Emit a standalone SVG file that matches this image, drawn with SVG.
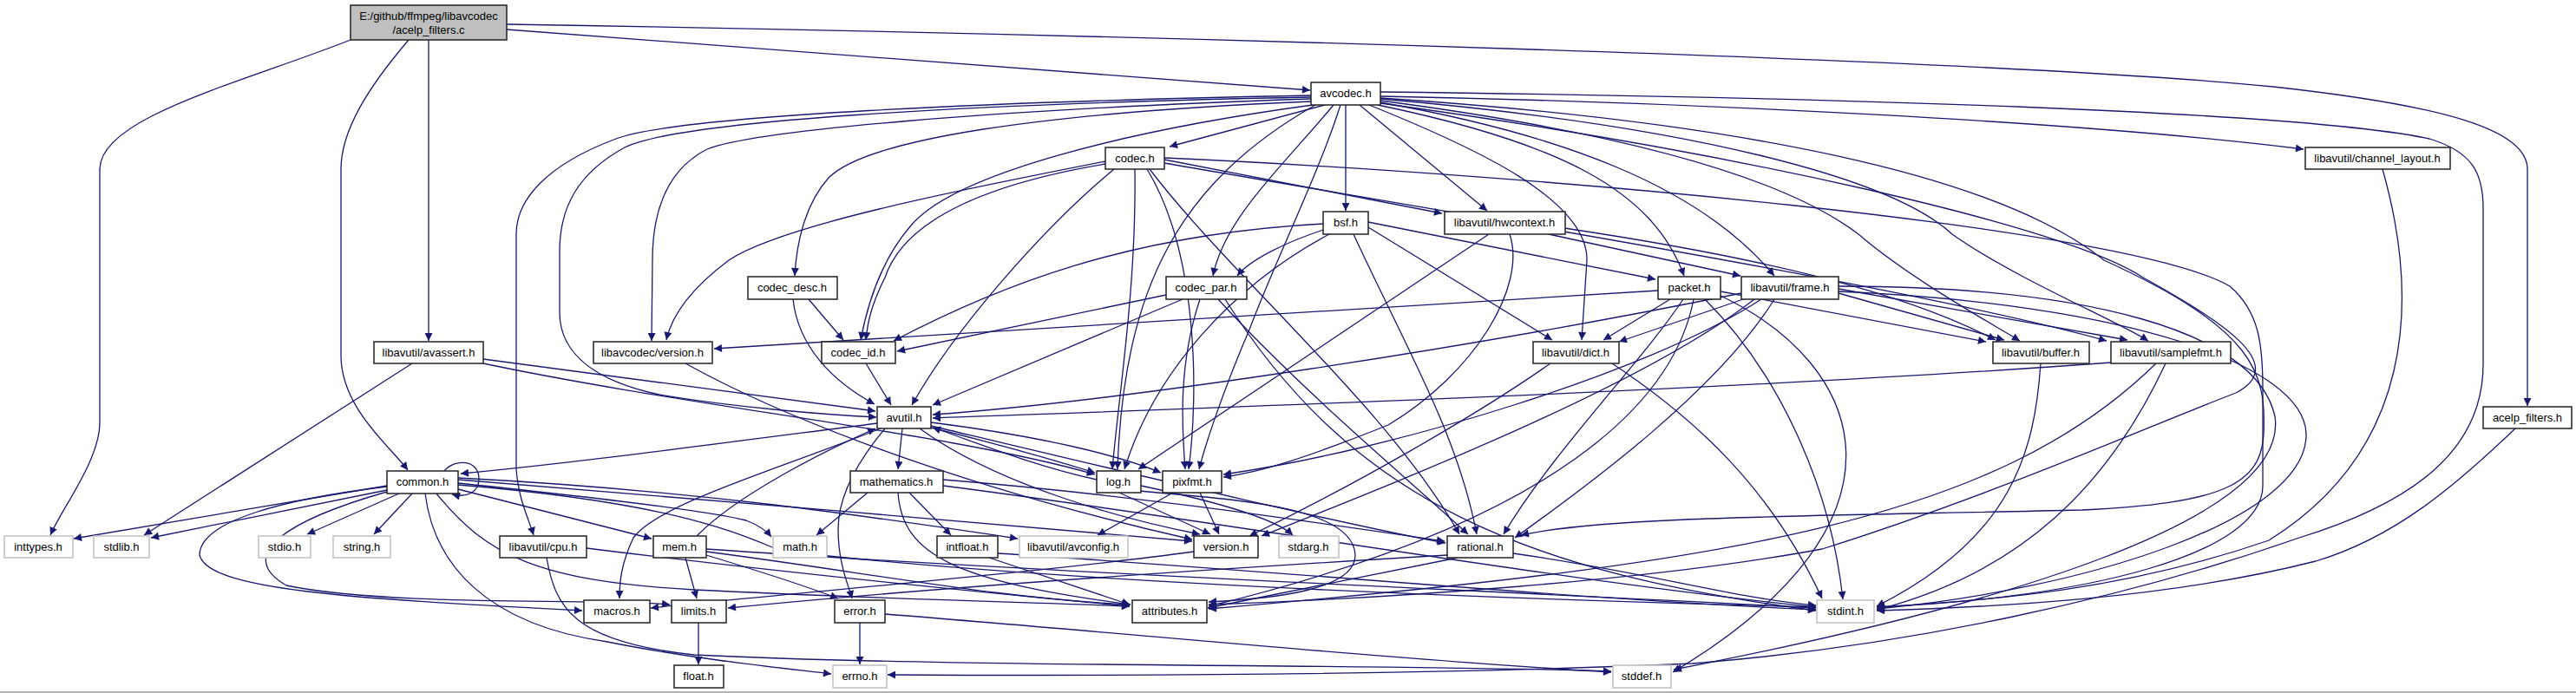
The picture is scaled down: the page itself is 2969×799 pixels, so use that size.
<svg xmlns="http://www.w3.org/2000/svg" width="2969" height="799" viewBox="0 0 2969 799">
<style>
.n rect{fill:#fff;stroke:#222;stroke-width:1.5}
.g rect{fill:#fff;stroke:#c0c0c0;stroke-width:1.5}
.m rect{fill:#bfbfbf;stroke:#222;stroke-width:1.5}
text{font-family:"Liberation Sans",Arial,sans-serif;font-size:13px;fill:#000;text-anchor:middle}
.e path{fill:none;stroke:#191970;stroke-width:1.3;marker-end:url(#a)}
</style>
<defs>
<marker id="a" viewBox="0 0 10 10" refX="10" refY="5" markerWidth="11" markerHeight="9" markerUnits="userSpaceOnUse" orient="auto">
<path d="M0,0 L10,5 L0,10 z" fill="#191970" stroke="none"/>
</marker>
</defs>
<rect x="0" y="0" width="2969" height="799" fill="#fff"/>
<rect x="0" y="797" width="2969" height="2" fill="#b4b4b4"/>
<g id="edges" class="e">
<path d="M404,46 C280,95 115,135 115,195 L115,487 C115,530 72,585 58,617"/>
<path d="M471,46 C425,100 393,150 393,195 L393,410 C393,470 450,515 470,542"/>
<path d="M494,46 L494,393"/>
<path d="M584,34 L1510,104"/>
<path d="M584,28 C1300,40 2300,68 2620,100 C2820,122 2913,150 2913,195 L2913,468"/>
<path d="M1527,121 L1348,169"/>
<path d="M1551,121 L1551,243"/>
<path d="M1567,121 L1714,243"/>
<path d="M1591,111 C1950,118 2400,140 2655,172"/>
<path d="M1591,106 C2100,112 2650,128 2800,160 C2850,175 2862,200 2862,240 L2862,420 C2862,520 2780,580 2650,620 C2450,690 2200,745 1950,765 C1600,780 1200,779 1023,778"/>
<path d="M1511,112 C1100,120 780,140 720,170 C665,200 645,240 645,290 L645,360 C645,410 690,440 760,455 C850,470 950,478 1010,481"/>
<path d="M1511,114 C1150,126 870,150 815,172 C770,195 752,240 752,300 L751,393"/>
<path d="M1511,117 C1200,130 1000,160 955,205 C928,235 918,280 916,318"/>
<path d="M1513,121 C1300,150 1100,200 1050,260 C1015,300 1000,350 992,392"/>
<path d="M1537,121 C1480,190 1412,250 1398,318"/>
<path d="M1588,121 C1800,165 1905,220 1941,318"/>
<path d="M1591,118 C1800,155 1960,215 2045,318"/>
<path d="M1578,121 C1700,170 1830,230 1829,300 L1823,392"/>
<path d="M1591,116 C1850,150 2050,200 2142,270 C2200,320 2290,370 2328,393"/>
<path d="M1591,114 C1950,145 2180,205 2250,270 C2320,320 2440,370 2476,393"/>
<path d="M1591,113 C2000,140 2300,200 2425,300 C2600,380 2612,430 2609,500 C2606,560 2560,580 2400,588 C2100,595 1850,595 1753,617"/>
<path d="M1591,119 C2000,175 2380,260 2470,320 C2560,370 2640,420 2577,453 C2480,490 2300,570 2100,633 C1900,670 1600,690 1393,697"/>
<path d="M1516,121 C1360,210 1295,330 1288,541"/>
<path d="M1511,110 C1150,117 780,133 710,160 C630,190 595,230 595,270 L595,540 C597,575 610,600 615,617"/>
<path d="M1545,121 C1520,200 1470,300 1440,380 C1410,450 1390,510 1382,541"/>
<path d="M1342,184 L1662,246"/>
<path d="M1342,188 C1700,250 2200,330 2428,393"/>
<path d="M1342,182 C1750,200 2450,260 2570,330 C2605,360 2608,400 2608,450 L2608,560 C2608,640 2400,690 2163,700"/>
<path d="M1325,195 C1420,320 1600,470 1682,616"/>
<path d="M1284,195 C1200,265 1100,380 1051,467"/>
<path d="M1308,195 C1310,330 1290,450 1282,541"/>
<path d="M1322,195 C1380,290 1382,450 1370,541"/>
<path d="M1274,189 C1120,215 1040,260 1020,320 C1005,350 1000,370 998,392"/>
<path d="M1274,186 C1100,220 900,260 840,300 C800,330 775,360 768,392"/>
<path d="M914,345 C920,400 960,440 1008,466"/>
<path d="M932,345 L972,392"/>
<path d="M1344,340 L1034,405"/>
<path d="M1363,345 L1075,467"/>
<path d="M1383,345 C1358,420 1362,490 1366,541"/>
<path d="M1404,345 C1500,450 1620,550 1692,616"/>
<path d="M1412,345 C1560,580 1760,660 2093,704"/>
<path d="M1577,256 L1908,322"/>
<path d="M1577,262 L1789,392"/>
<path d="M1525,265 C1480,280 1440,300 1426,318"/>
<path d="M1525,258 C1300,270 1150,330 1030,393"/>
<path d="M1532,270 C1420,330 1330,430 1296,541"/>
<path d="M1560,270 C1620,400 1680,500 1702,616"/>
<path d="M1911,335 L823,402"/>
<path d="M1925,345 L1848,392"/>
<path d="M1983,336 L2289,394"/>
<path d="M1940,345 C1890,420 1790,520 1733,616"/>
<path d="M1952,345 C1930,460 1800,600 1393,699"/>
<path d="M1965,345 C2050,430 2110,560 2124,691"/>
<path d="M1983,341 C2150,420 2220,600 1928,775"/>
<path d="M2119,338 L2310,392"/>
<path d="M2119,333 L2452,392"/>
<path d="M2012,344 L1866,394"/>
<path d="M2007,338 C1700,400 1300,462 1075,478"/>
<path d="M2030,345 C1900,430 1600,520 1410,547"/>
<path d="M2045,345 C1980,450 1830,560 1746,620"/>
<path d="M2022,345 C1900,440 1650,540 1454,618"/>
<path d="M2119,330 C2400,330 2600,380 2622,480 C2640,600 2300,700 1929,772"/>
<path d="M2119,336 C2450,350 2655,420 2658,500 C2660,600 2400,680 2163,702"/>
<path d="M1787,419 C1700,480 1560,560 1440,618"/>
<path d="M1858,419 C1950,480 2040,560 2100,690"/>
<path d="M2352,419 C2345,520 2320,620 2163,699"/>
<path d="M2496,419 C2430,560 2330,660 2163,703"/>
<path d="M2433,418 C2000,450 1400,470 1075,482"/>
<path d="M2485,419 C2300,600 2000,650 1393,702"/>
<path d="M2746,195 C2790,350 2780,520 2615,623 C2450,680 2300,692 2163,700"/>
<path d="M2899,494 C2830,560 2760,620 2669,647 C2500,690 2300,700 2163,704"/>
<path d="M1785,270 L2006,318"/>
<path d="M1803,263 C2050,300 2200,340 2300,392"/>
<path d="M1716,270 L1312,541"/>
<path d="M1740,270 C1760,330 1700,430 1600,490 C1500,530 1450,545 1410,550"/>
<path d="M475,419 L166,617"/>
<path d="M557,414 L1009,474"/>
<path d="M557,419 C800,470 1100,500 1262,547"/>
<path d="M790,419 C900,480 1100,560 1374,622"/>
<path d="M998,419 L1027,467"/>
<path d="M1011,488 C800,515 650,535 531,546"/>
<path d="M1020,494 C990,530 966,570 966,610 C966,650 978,675 982,690"/>
<path d="M1040,494 L1035,541"/>
<path d="M1015,494 C900,540 760,580 730,620 C716,650 714,670 714,690"/>
<path d="M1073,491 C1300,545 1550,605 1666,626"/>
<path d="M1060,494 C1150,560 1300,600 1383,616"/>
<path d="M1073,493 C1150,512 1220,532 1262,545"/>
<path d="M1073,487 C1200,503 1290,525 1338,545"/>
<path d="M1264,553 C1190,537 1120,508 1075,493"/>
<path d="M1315,560 C1400,578 1470,598 1490,617"/>
<path d="M1290,568 L1395,616"/>
<path d="M1314,566 C1400,575 1560,580 1562,640 C1562,680 1470,690 1393,694"/>
<path d="M1352,568 L1265,617"/>
<path d="M1383,568 L1405,616"/>
<path d="M1000,568 L941,617"/>
<path d="M1048,568 L1096,617"/>
<path d="M1035,568 C1040,640 1100,670 1303,697"/>
<path d="M1087,553 C1300,570 1500,600 1665,624"/>
<path d="M1087,560 C1400,600 1800,670 2093,700"/>
<path d="M1140,643 L1302,697"/>
<path d="M1150,638 C1500,660 1800,690 2093,703"/>
<path d="M1680,643 L1392,701"/>
<path d="M1668,640 C1500,650 1100,675 839,701"/>
<path d="M1744,638 C1900,660 2000,690 2093,698"/>
<path d="M676,632 C900,660 1100,680 1302,699"/>
<path d="M630,643 C640,700 660,740 800,755 C1100,770 1600,765 1857,774"/>
<path d="M803,618 C850,570 950,520 1009,494"/>
<path d="M790,643 L803,690"/>
<path d="M814,640 C880,660 940,680 966,690"/>
<path d="M814,636 C1000,660 1150,690 1302,697"/>
<path d="M814,633 C1200,660 1700,680 2093,701"/>
<path d="M446,560 L85,621"/>
<path d="M446,565 L174,620"/>
<path d="M460,569 L354,616"/>
<path d="M475,569 L431,616"/>
<path d="M528,564 L751,621"/>
<path d="M528,557 C700,575 820,590 860,600 C878,607 885,614 889,619"/>
<path d="M446,561 C330,575 230,600 230,640 C240,680 400,690 671,704"/>
<path d="M446,567 C330,600 270,640 330,675 C450,700 700,690 772,697"/>
<path d="M490,569 C500,650 560,720 700,740 C800,760 900,770 958,777"/>
<path d="M503,569 C560,640 620,670 800,680 C1000,690 1200,695 1302,699"/>
<path d="M528,553 C800,575 1100,600 1374,624"/>
<path d="M528,551 C800,565 1000,595 1173,621"/>
<path d="M528,559 C780,580 850,615 900,635 C1200,670 1700,690 2093,700"/>
<path d="M512,543 C525,528 552,530 552,552 C552,568 538,574 521,570"/>
<path d="M991,718 L991,766"/>
<path d="M1020,708 C1300,730 1600,760 1857,775"/>
<path d="M805,718 L805,766"/>
<path d="M1376,636 C1200,660 900,685 750,701"/>
</g>
<g id="main" class="m"><rect x="404" y="6" width="180" height="40"/><text x="494" y="23">E:/github/ffmpeg/libavcodec</text><text x="494" y="39">/acelp_filters.c</text></g>
<g id="avcodec" class="n"><rect x="1511" y="95" width="80" height="26"/><text x="1551" y="112">avcodec.h</text></g>
<g id="codec" class="n"><rect x="1274" y="170" width="68" height="25"/><text x="1308" y="187">codec.h</text></g>
<g id="channel_layout" class="n"><rect x="2657" y="170" width="167" height="25"/><text x="2740" y="187">libavutil/channel_layout.h</text></g>
<g id="bsf" class="n"><rect x="1525" y="244" width="52" height="26"/><text x="1551" y="261">bsf.h</text></g>
<g id="hwcontext" class="n"><rect x="1665" y="244" width="139" height="26"/><text x="1734" y="261">libavutil/hwcontext.h</text></g>
<g id="codec_desc" class="n"><rect x="862" y="319" width="103" height="26"/><text x="913" y="336">codec_desc.h</text></g>
<g id="codec_par" class="n"><rect x="1344" y="319" width="93" height="26"/><text x="1390" y="336">codec_par.h</text></g>
<g id="packet" class="n"><rect x="1911" y="319" width="72" height="26"/><text x="1947" y="336">packet.h</text></g>
<g id="frame" class="n"><rect x="2007" y="319" width="112" height="26"/><text x="2063" y="336">libavutil/frame.h</text></g>
<g id="avassert" class="n"><rect x="431" y="394" width="126" height="25"/><text x="494" y="411">libavutil/avassert.h</text></g>
<g id="lavc_version" class="n"><rect x="684" y="394" width="137" height="25"/><text x="752" y="411">libavcodec/version.h</text></g>
<g id="codec_id" class="n"><rect x="947" y="394" width="85" height="25"/><text x="989" y="411">codec_id.h</text></g>
<g id="dict" class="n"><rect x="1767" y="394" width="99" height="25"/><text x="1816" y="411">libavutil/dict.h</text></g>
<g id="buffer" class="n"><rect x="2297" y="394" width="111" height="25"/><text x="2352" y="411">libavutil/buffer.h</text></g>
<g id="samplefmt" class="n"><rect x="2433" y="394" width="138" height="25"/><text x="2502" y="411">libavutil/samplefmt.h</text></g>
<g id="avutil" class="n"><rect x="1011" y="469" width="62" height="25"/><text x="1042" y="486">avutil.h</text></g>
<g id="acelp_filters_h" class="n"><rect x="2862" y="469" width="102" height="25"/><text x="2913" y="486">acelp_filters.h</text></g>
<g id="common" class="n"><rect x="446" y="543" width="82" height="26"/><text x="487" y="560">common.h</text></g>
<g id="mathematics" class="n"><rect x="980" y="543" width="107" height="25"/><text x="1033" y="560">mathematics.h</text></g>
<g id="log" class="n"><rect x="1264" y="543" width="51" height="25"/><text x="1289" y="560">log.h</text></g>
<g id="pixfmt" class="n"><rect x="1340" y="543" width="68" height="25"/><text x="1374" y="560">pixfmt.h</text></g>
<g id="inttypes" class="g"><rect x="5" y="618" width="79" height="25"/><text x="44" y="635">inttypes.h</text></g>
<g id="stdlib" class="g"><rect x="108" y="618" width="64" height="25"/><text x="140" y="635">stdlib.h</text></g>
<g id="stdio" class="g"><rect x="298" y="618" width="60" height="25"/><text x="328" y="635">stdio.h</text></g>
<g id="string" class="g"><rect x="384" y="618" width="66" height="25"/><text x="417" y="635">string.h</text></g>
<g id="cpu" class="n"><rect x="576" y="618" width="100" height="25"/><text x="626" y="635">libavutil/cpu.h</text></g>
<g id="mem" class="n"><rect x="753" y="618" width="61" height="25"/><text x="783" y="635">mem.h</text></g>
<g id="math" class="g"><rect x="891" y="618" width="62" height="25"/><text x="922" y="635">math.h</text></g>
<g id="intfloat" class="n"><rect x="1080" y="618" width="70" height="25"/><text x="1115" y="635">intfloat.h</text></g>
<g id="avconfig" class="g"><rect x="1175" y="618" width="125" height="25"/><text x="1237" y="635">libavutil/avconfig.h</text></g>
<g id="version" class="n"><rect x="1376" y="618" width="74" height="25"/><text x="1413" y="635">version.h</text></g>
<g id="stdarg" class="g"><rect x="1474" y="618" width="69" height="25"/><text x="1508" y="635">stdarg.h</text></g>
<g id="rational" class="n"><rect x="1668" y="618" width="76" height="25"/><text x="1706" y="635">rational.h</text></g>
<g id="macros" class="n"><rect x="673" y="692" width="76" height="26"/><text x="711" y="709">macros.h</text></g>
<g id="limits" class="n"><rect x="774" y="692" width="63" height="26"/><text x="805" y="709">limits.h</text></g>
<g id="error" class="n"><rect x="962" y="692" width="58" height="26"/><text x="991" y="709">error.h</text></g>
<g id="attributes" class="n"><rect x="1305" y="692" width="86" height="26"/><text x="1348" y="709">attributes.h</text></g>
<g id="stdint" class="g"><rect x="2094" y="692" width="66" height="26"/><text x="2127" y="709">stdint.h</text></g>
<g id="float" class="n"><rect x="777" y="767" width="57" height="26"/><text x="805" y="784">float.h</text></g>
<g id="errno" class="g"><rect x="960" y="767" width="62" height="26"/><text x="991" y="784">errno.h</text></g>
<g id="stddef" class="g"><rect x="1859" y="767" width="67" height="26"/><text x="1892" y="784">stddef.h</text></g>
</svg>
